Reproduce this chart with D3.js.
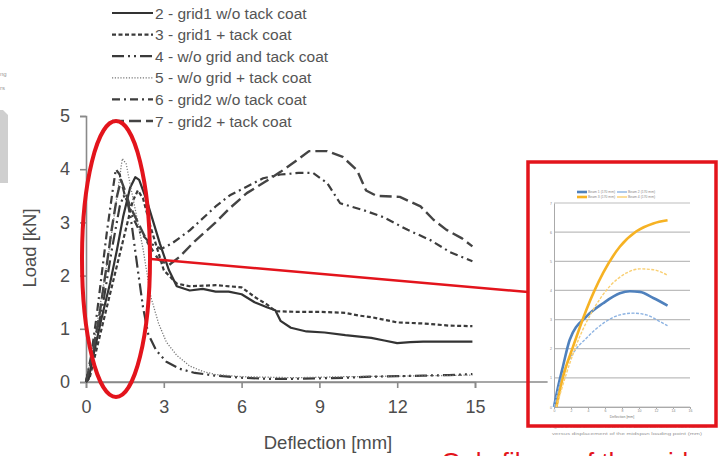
<!DOCTYPE html>
<html>
<head>
<meta charset="utf-8">
<script src="https://cdn.jsdelivr.net/npm/d3@7"></script>
<style>
  html, body { margin: 0; padding: 0; background: #fff; overflow: hidden; }
  svg { display: block; font-family: "Liberation Sans", Arial, sans-serif; }
</style>
</head>
<body>
<div id="chart-container"></div>
<script>
// ---- data ----
const seriesNames = [
  "2 - grid1 w/o tack coat",
  "3 - grid1 + tack coat",
  "4 - w/o grid and tack coat",
  "5 - w/o grid + tack coat",
  "6 - grid2 w/o tack coat",
  "7 - grid2 + tack coat"
];

// [deflection mm, load kN]
const grid1NoTack = [[0,0],[0.1,0.05],[0.27,0.47],[0.6,1.2],[0.93,1.86],[1.2,2.5],[1.43,3.1],[1.7,3.65],[1.9,3.85],[2.05,3.8],[2.35,3.4],[2.85,2.6],[3.2,2.1],[3.5,1.8],[4,1.72],[4.5,1.75],[5,1.7],[5.5,1.7],[6,1.65],[6.5,1.5],[7,1.4],[7.3,1.35],[7.5,1.15],[7.9,1.02],[8.5,0.95],[9.2,0.93],[10,0.88],[11,0.83],[11.5,0.78],[12,0.73],[12.5,0.75],[13,0.76],[14,0.76],[14.9,0.76]];
const grid1Tack = [[0,0],[0.15,0.1],[0.5,0.8],[1,1.8],[1.5,2.8],[1.8,3.4],[2,3.6],[2.2,3.45],[2.5,2.9],[3,2.1],[3.5,1.85],[4,1.8],[5,1.82],[6,1.78],[6.5,1.6],[7,1.45],[7.3,1.33],[8,1.32],[9,1.32],[10,1.3],[10.5,1.25],[11,1.22],[12,1.12],[13,1.1],[14,1.06],[14.9,1.05]];
const noGridNoTack = [[0,0],[0.3,0.6],[0.7,1.6],[1,2.5],[1.3,3.3],[1.45,3.5],[1.6,3.4],[1.75,3],[2,2.1],[2.2,1.4],[2.4,0.9],[2.7,0.6],[3.1,0.38],[3.6,0.25],[4.2,0.17],[5,0.12],[6,0.08],[7,0.06],[8,0.06],[9,0.07],[10,0.08],[11,0.1],[12,0.11],[13,0.12],[14,0.13],[14.9,0.15]];
const noGridTack = [[0,0],[0.3,0.7],[0.6,1.6],[0.9,2.5],[1.2,3.5],[1.4,4.2],[1.55,4.1],[1.75,3.6],[2,3],[2.2,2.5],[2.5,1.6],[2.8,1.1],[3.1,0.75],[3.5,0.5],[4,0.3],[4.5,0.2],[5,0.14],[6,0.1],[8,0.08],[10,0.1],[12,0.11],[14.9,0.13]];
const grid2NoTack = [[0,0],[0.2,0.5],[0.4,1.2],[0.6,2],[0.8,2.8],[1,3.5],[1.15,4],[1.3,3.9],[1.5,3.5],[1.8,3.1],[2.1,2.8],[2.5,2.6],[2.9,2.5],[3.3,2.6],[4,2.85],[5,3.3],[5.55,3.51],[6,3.62],[6.83,3.83],[7.5,3.9],[8.2,3.93],[8.75,3.93],[9.3,3.74],[9.8,3.36],[10.7,3.23],[11.46,3.1],[12.4,2.86],[13.27,2.67],[14.04,2.44],[14.9,2.27]];
const grid2Tack = [[0,0],[0.2,0.4],[0.5,1.2],[0.8,2.2],[1,2.9],[1.2,3.5],[1.35,3.8],[1.5,3.6],[1.7,3.3],[2,3],[2.4,2.6],[2.8,2.3],[3.2,2.2],[3.6,2.35],[4.2,2.65],[5,3],[5.55,3.27],[6.2,3.55],[6.83,3.74],[7.5,3.95],[8.14,4.17],[8.6,4.34],[9.3,4.34],[9.9,4.23],[10.45,3.98],[10.8,3.6],[11.2,3.5],[12.1,3.48],[12.9,3.3],[13.4,3.05],[13.9,2.86],[14.5,2.7],[14.9,2.55]];

const xTicks = [0, 3, 6, 9, 12, 15];
const yTicks = [0, 1, 2, 3, 4, 5];

// inset chart (blurred picture on the right)
const insetNames = ["Beam 1 (170 mm)", "Beam 2 (170 mm)", "Beam 3 (170 mm)", "Beam 4 (170 mm)"];
const insetBlue = [[0,0],[0.48,0.69],[1.06,1.4],[1.84,2.3],[3.8,3.1],[5.78,3.56],[7.74,3.9],[8.92,3.97],[10.1,3.95],[11.68,3.74],[13.36,3.48]];
const insetBlueLight = [[0,0],[1.06,1.15],[2.24,1.84],[3.8,2.36],[5.78,2.87],[7.74,3.16],[9.32,3.22],[10.88,3.16],[12.46,2.93],[13.36,2.79]];
const insetGold = [[0.28,0],[1.06,1.03],[2.24,2.07],[3.8,3.33],[5.78,4.6],[7.74,5.5],[9.7,6.03],[11.68,6.3],[13.36,6.41]];
const insetGoldLight = [[0.28,0],[1.46,1.15],[3.02,2.41],[4.6,3.33],[6.56,4.14],[8.54,4.6],[10.1,4.74],[11.68,4.71],[13.36,4.52]];
const insetXTicks = [0, 2, 4, 6, 8, 10, 12, 14, 16];
const insetYTicks = [0, 1, 2, 3, 4, 5, 6, 7];

// ---- layout ----
const width = 718, height = 456;
const svg = d3.select("#chart-container").append("svg")
  .attr("width", width).attr("height", height);

const x = d3.scaleLinear().domain([0, 15]).range([86, 475]);
const y = d3.scaleLinear().domain([0, 5]).range([382, 116]);

// bit of the neighbouring slide picture on the far left
svg.append("path")
  .attr("d", "M0,110 L3,110 L8,115 L8,183 L0,183 Z")
  .attr("fill", "#cfcfcf");
svg.append("text").attr("x", 0).attr("y", 76).attr("font-size", 6).attr("fill", "#999").text("ng");
svg.append("text").attr("x", 0).attr("y", 90).attr("font-size", 6).attr("fill", "#999").text("rs");

// axes
const axisColor = "#8a8a8a", labelColor = "#4d4d4d";

const gy = svg.append("g").attr("transform", `translate(${x(0)},0)`)
  .call(d3.axisLeft(y).tickValues(yTicks).tickFormat(d3.format("d")).tickSize(6).tickPadding(10));
const gx = svg.append("g").attr("transform", `translate(0,${y(0)})`)
  .call(d3.axisBottom(x).tickValues(xTicks).tickFormat(d3.format("d")).tickSize(6).tickPadding(12));

[gx, gy].forEach(g => {
  g.select(".domain").attr("stroke", axisColor).attr("stroke-width", 1.6);
  g.selectAll(".tick line").attr("stroke", axisColor).attr("stroke-width", 1.6);
  g.selectAll(".tick text").attr("fill", labelColor)
    .style("font-size", "18px").style("font-family", "Liberation Sans, Arial, sans-serif");
});
// the horizontal axis line runs on under the inset picture
svg.append("line")
  .attr("x1", x(0)).attr("x2", x(17.8))
  .attr("y1", y(0)).attr("y2", y(0))
  .attr("stroke", axisColor).attr("stroke-width", 1.6);

svg.append("text")
  .attr("x", 328).attr("y", 449)
  .attr("text-anchor", "middle")
  .attr("fill", labelColor).style("font-size", "18.5px")
  .text("Deflection [mm]");
svg.append("text")
  .attr("transform", `translate(36,248) rotate(-90)`)
  .attr("text-anchor", "middle")
  .attr("fill", labelColor).style("font-size", "18.5px")
  .text("Load [kN]");

// curves
const styles = [
  { data: grid1NoTack,  dash: null,               width: 2.2, color: "#333" },
  { data: grid1Tack,    dash: "4,2.5",            width: 2.2, color: "#3a3a3a" },
  { data: noGridNoTack, dash: "12,4,2,4,2,4",     width: 2.2, color: "#3a3a3a" },
  { data: noGridTack,   dash: "1.2,1.6",          width: 1.3, color: "#777" },
  { data: grid2NoTack,  dash: "8,4,2,4",          width: 2.2, color: "#3d3d3d" },
  { data: grid2Tack,    dash: "12,5",             width: 2.4, color: "#444" }
];

const line = d3.line().x(d => x(d[0])).y(d => y(d[1]));

svg.append("g").selectAll("path")
  .data(styles)
  .join("path")
    .attr("d", d => line(d.data))
    .attr("fill", "none")
    .attr("stroke", d => d.color)
    .attr("stroke-width", d => d.width)
    .attr("stroke-dasharray", d => d.dash)
    .attr("stroke-linejoin", "round");

// legend
const legend = svg.append("g");
const rowY = d3.scaleLinear().domain([0, 5]).range([13, 121]);
seriesNames.forEach((name, i) => {
  const s = styles[i];
  legend.append("line")
    .attr("x1", 112).attr("x2", 153)
    .attr("y1", rowY(i)).attr("y2", rowY(i))
    .attr("stroke", s.color).attr("stroke-width", s.width)
    .attr("stroke-dasharray", s.dash);
  legend.append("text")
    .attr("x", 155).attr("y", rowY(i) + 5.5)
    .attr("fill", "#555").style("font-size", "15.5px")
    .text(name);
});

// ---- inset picture ----
const inset = svg.append("g");
inset.append("rect")
  .attr("x", 548).attr("y", 164).attr("width", 170).attr("height", 282)
  .attr("fill", "#fff");

const ix = d3.scaleLinear().domain([0, 16]).range([554, 690]);
const iy = d3.scaleLinear().domain([0, 7]).range([407, 203]);

inset.append("g").selectAll("line")
  .data(insetYTicks)
  .join("line")
    .attr("x1", ix(0)).attr("x2", ix(16))
    .attr("y1", d => iy(d)).attr("y2", d => iy(d))
    .attr("stroke", "#bdbdbd").attr("stroke-width", 1.2);

const igy = inset.append("g").attr("transform", `translate(${ix(0)},0)`)
  .call(d3.axisLeft(iy).tickValues(insetYTicks).tickFormat(d3.format("d")).tickSize(0).tickPadding(2));
const igx = inset.append("g").attr("transform", `translate(0,${iy(0)})`)
  .call(d3.axisBottom(ix).tickValues(insetXTicks).tickFormat(d3.format("d")).tickSize(2).tickPadding(1));
[igx, igy].forEach(g => {
  g.select(".domain").attr("stroke", "#aaa");
  g.selectAll(".tick line").attr("stroke", "#aaa");
  g.selectAll(".tick text").attr("fill", "#888").style("font-size", "3.5px");
});
inset.append("text")
  .attr("x", 622).attr("y", 418).attr("text-anchor", "middle")
  .attr("fill", "#777").style("font-size", "3.5px").text("Deflection [mm]");

const insetSeries = [
  { data: insetBlue,      color: "#4f81bd", width: 2.6, dash: null },
  { data: insetBlueLight, color: "#8db3e2", width: 1.4, dash: "3,1.5" },
  { data: insetGold,      color: "#f6b223", width: 2.6, dash: null },
  { data: insetGoldLight, color: "#f9cf72", width: 1.4, dash: "3,1.5" }
];
const iline = d3.line().x(d => ix(d[0])).y(d => iy(d[1])).curve(d3.curveMonotoneX);
inset.append("g").selectAll("path")
  .data(insetSeries)
  .join("path")
    .attr("d", d => iline(d.data))
    .attr("fill", "none")
    .attr("stroke", d => d.color)
    .attr("stroke-width", d => d.width)
    .attr("stroke-dasharray", d => d.dash);

insetNames.forEach((name, i) => {
  const lx = i % 2 === 0 ? 577 : 617;
  const ly = i < 2 ? 192 : 197;
  const s = insetSeries[i];
  inset.append("line")
    .attr("x1", lx).attr("x2", lx + 10).attr("y1", ly).attr("y2", ly)
    .attr("stroke", s.color).attr("stroke-width", s.width);
  inset.append("text")
    .attr("x", lx + 11).attr("y", ly + 1.2)
    .attr("fill", "#888").style("font-size", "3.4px").text(name);
});

inset.append("text")
  .attr("x", 550).attr("y", 428)
  .attr("fill", "#999").style("font-size", "4px")
  .attr("textLength", 157).attr("lengthAdjust", "spacingAndGlyphs")
  .text("Figure 6. Load-deflection curves of the beams with different fibre contents");
inset.append("text")
  .attr("x", 552).attr("y", 435)
  .attr("fill", "#999").style("font-size", "4px")
  .attr("textLength", 150).attr("lengthAdjust", "spacingAndGlyphs")
  .text("versus displacement of the midspan loading point (mm)");

// ---- red highlight marks ----
const red = "#e3141c";
svg.append("ellipse")
  .attr("cx", 116).attr("cy", 259).attr("rx", 34).attr("ry", 138)
  .attr("fill", "none").attr("stroke", red).attr("stroke-width", 4);
svg.append("line")
  .attr("x1", 151).attr("y1", 259).attr("x2", 528).attr("y2", 292)
  .attr("stroke", red).attr("stroke-width", 2.5);
svg.append("rect")
  .attr("x", 528).attr("y", 162).attr("width", 188).attr("height", 264)
  .attr("fill", "none").attr("stroke", red).attr("stroke-width", 3.5);

// slide text below, cut by the bottom edge as in the screenshot
svg.append("text")
  .attr("x", 441).attr("y", 471)
  .attr("fill", red).style("font-size", "26px")
  .text("Only fibers of the grid act");
</script>
</body>
</html>
